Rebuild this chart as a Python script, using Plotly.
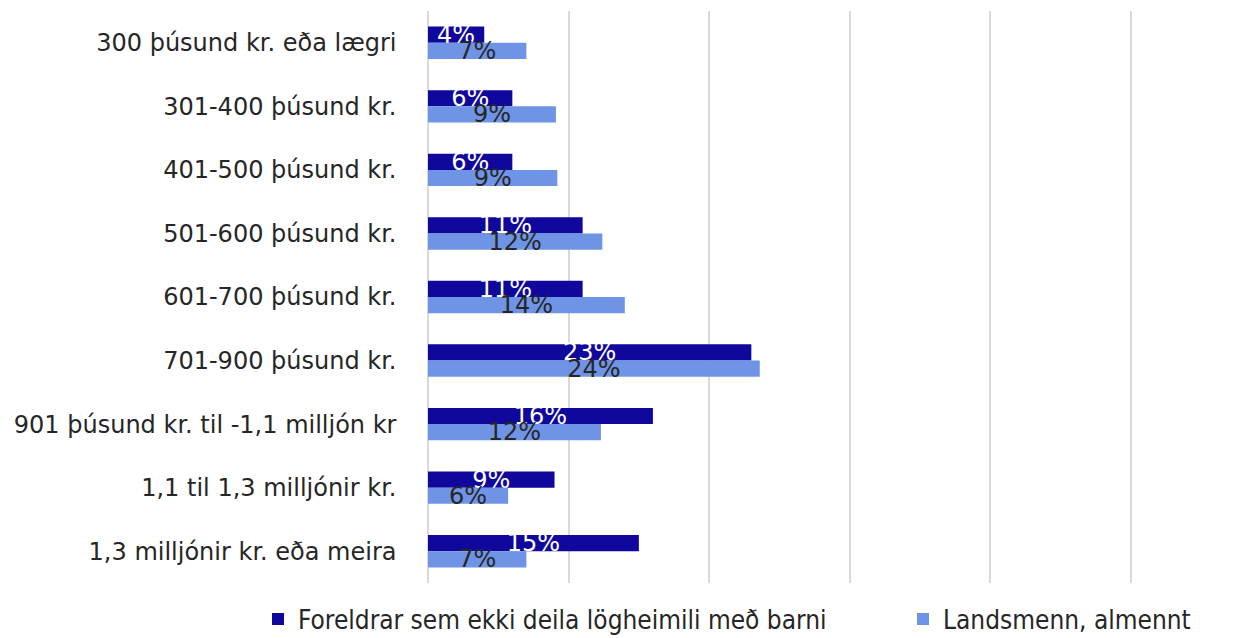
import plotly.graph_objects as go

categories = [
    "300 þúsund kr. eða lægri",
    "301-400 þúsund kr.",
    "401-500 þúsund kr.",
    "501-600 þúsund kr.",
    "601-700 þúsund kr.",
    "701-900 þúsund kr.",
    "901 þúsund kr. til -1,1 milljón kr",
    "1,1 til 1,3 milljónir kr.",
    "1,3 milljónir kr. eða meira",
]
foreldrar = [4.0, 6.0, 6.0, 11.0, 11.0, 23.0, 16.0, 9.0, 15.0]
landsmenn = [7.0, 9.1, 9.2, 12.4, 14.0, 23.6, 12.3, 5.7, 7.0]
foreldrar_labels = ["4%", "6%", "6%", "11%", "11%", "23%", "16%", "9%", "15%"]
landsmenn_labels = ["7%", "9%", "9%", "12%", "14%", "24%", "12%", "6%", "7%"]

FONT = "DejaVu Sans"
LEGFONT = "DejaVu Sans Condensed, DejaVu Sans"
dark = "#10089c"
light = "#6f94e6"
txt = "#262626"

W, H = 1248, 630

fig = go.Figure()
fig.add_trace(go.Bar(
    y=categories, x=foreldrar, orientation="h",
    name="Foreldrar sem ekki deila lögheimili með barni",
    marker=dict(color=dark, line=dict(width=0)),
    text=foreldrar_labels, textposition="inside", insidetextanchor="middle",
    constraintext="none", textangle=0,
    insidetextfont=dict(family=FONT, size=24, color="white"),
    cliponaxis=False, hoverinfo="skip", legend="legend",
))
fig.add_trace(go.Bar(
    y=categories, x=landsmenn, orientation="h",
    name="Landsmenn, almennt",
    marker=dict(color=light, line=dict(width=0)),
    text=landsmenn_labels, textposition="inside", insidetextanchor="middle",
    constraintext="none", textangle=0,
    insidetextfont=dict(family=FONT, size=24, color=txt),
    cliponaxis=False, hoverinfo="skip", legend="legend2",
))

leg_common = dict(
    orientation="h", xref="container", yref="container",
    y=19 / H, xanchor="left", yanchor="middle",
    font=dict(family=LEGFONT, size=26, color=txt),
    bgcolor="rgba(0,0,0,0)",
)

fig.update_layout(
    width=W, height=H,
    margin=dict(l=420, r=123, t=3, b=55, autoexpand=False),
    paper_bgcolor="white", plot_bgcolor="white",
    barmode="group", bargap=0.49, bargroupgap=0,
    font=dict(family=FONT, size=24, color=txt),
    showlegend=True,
    legend=dict(x=250 / W, **leg_common),
    legend2=dict(x=895 / W, **leg_common),
)
fig.update_xaxes(
    range=[0, 50.15], tickvals=[0, 10, 20, 30, 40, 50], showticklabels=False,
    showgrid=True, gridcolor="#d9d9d9", gridwidth=2,
    zeroline=True, zerolinecolor="#d9d9d9", zerolinewidth=2,
    showline=False, fixedrange=True, automargin=False,
)
fig.update_yaxes(
    autorange="reversed", showgrid=False, showline=False,
    ticks="", ticksuffix="    ", tickfont=dict(family=FONT, size=24, color=txt),
    fixedrange=True, automargin=False,
)

fig.write_html("out.html")
